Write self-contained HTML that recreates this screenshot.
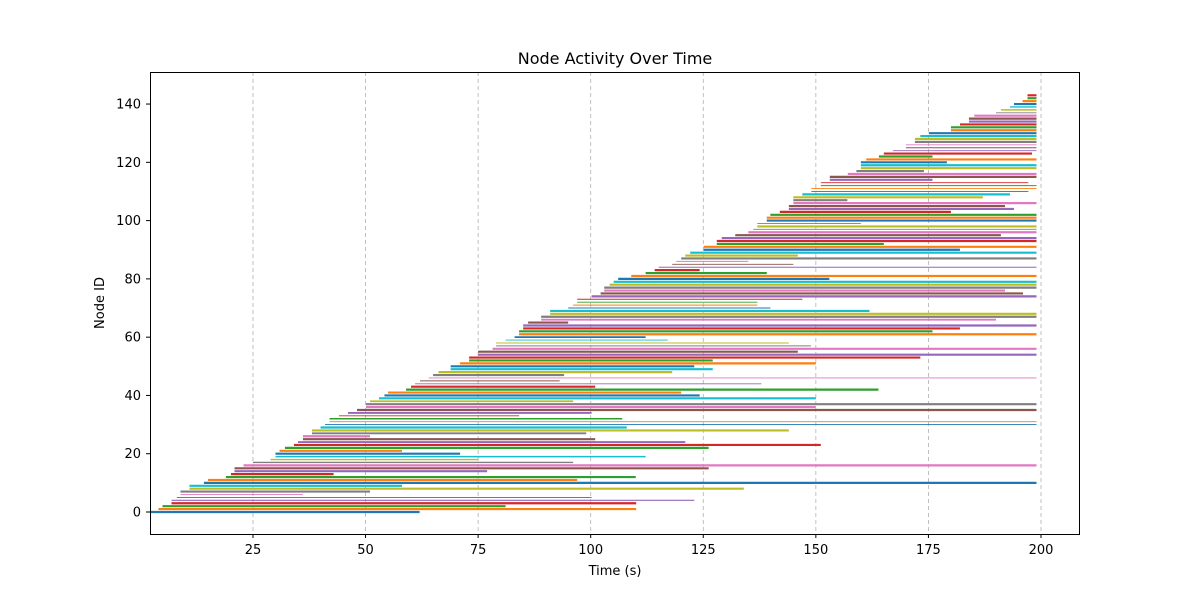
<!DOCTYPE html>
<html><head><meta charset="utf-8"><style>
body{margin:0;background:#fff;font-family:"Liberation Sans","DejaVu Sans",sans-serif}
svg text{font-family:"DejaVu Sans","Liberation Sans",sans-serif}
</style></head><body>
<svg id="chart" width="1200" height="600" xmlns="http://www.w3.org/2000/svg">
<rect width="1200" height="600" fill="#fff"/>
<text x="615" y="64" text-anchor="middle" font-size="16">Node Activity Over Time</text>
<text x="615" y="575" text-anchor="middle" font-size="13">Time (s)</text>
<text x="104" y="303" text-anchor="middle" font-size="13" transform="rotate(-90 104 303)">Node ID</text>
<g id="grid"></g><g id="bars"></g><g id="axes"></g>
<rect x="150.5" y="72.5" width="929" height="462" fill="none" stroke="#000" stroke-width="1"/>
</svg>
<script>
const starts=[2.1,4,4.9,6.9,6.9,8.1,8.9,8.9,10.9,10.9,14.1,15,19,20.1,20.9,20.9,22.9,25,28.9,30,
30,30.9,32.1,34.1,35,36.1,36.1,38.1,38.1,40,41,42,42,44.1,46.1,48.1,50.1,50.1,51,53,
54.2,55,59,60.1,61,62.1,64,65,66.2,68.9,68.9,71,73,73,75,75,78.2,79,79,81.1,83.1,
84.1,84.1,85,85,86.1,89,89,91,91,95,96.1,97,97,100.2,102.2,103,103,104.2,105.1,106.1,
109,112.2,114.2,115.1,118.1,119,120.1,121,122.1,125.1,125.1,128,128,129.1,132.1,135,136.1,137,137,139.1,
139.1,139.9,142,144,144,145,145,145,147,149,149,151.1,151.1,153.1,153.1,157.1,159,160,160,160,
161.2,164,165.1,167.1,170,170,172,172,173.2,175.1,180,180,182,184,184,185.2,190,191.1,193.1,194,195.9,197,197];
const ends=[62,110.1,81.1,110.1,123,100.2,36.1,51,134,58.1,199,97,110,42.9,77,126.2,199,96.1,75,112.2,
71,58.1,126.2,151.1,121,101,51,99,144,108,199,199,107,84.1,100.2,199,150,199,96.1,150,
124.2,120.1,163.9,101,137.9,93.1,199,94.1,118.1,127.1,123,150,127.1,173.2,199,146,199,148.9,144,117.1,112.2,
199,175.9,182,199,95,190,199,199,161.9,139.9,137,137,147,199,196,192,199,199,199,153,
199,139.1,124.2,199,145,135,199,146,199,182,199,165.1,199,199,191.1,199,199,199,160,199,
199,199,180,194,192,199,157,187.1,193.1,197.2,199,199,197.2,175.9,199,199,174,199,199,179.1,
199,175.9,198,199,199,199,199,199,199,199,199,199,199,199,199,199,199,199,199,199,199,199,199];
const widths=[3,3,3,3,1.5,1.2,1.2,3,3,3,3,3,3,3,3,3,3,2,2,2,
3,3,3,3,2.5,3,3,2.5,3,3,1.3,1.3,2,1.3,2.5,3,3,3,2.5,3,
3,3,3,3,1.3,1.3,1.3,3,3,3,3,3,3,3,3,3,3,1.3,1.3,1.3,2.5,
3,3,3,3,3,2.5,3,3,3,1.3,1.3,1.3,1.3,3,3,3,3,3,3,3,
3,3,3,1.3,1.3,1.3,3,3,3,3,3,3,3,3,3,3,1.3,3,1.3,3,
3,3,3,3,3,3,3,3,3,1.3,1.3,1.3,1.3,3,3,3,3,3,3,3,
3,3,3,1.3,1.3,1.3,3,3,3,3,3,3,3,3,3,3,1.3,2,2,3,3,3,3];
const xTicks=[25,50,75,100,125,150,175,200];
const yTicks=[0,20,40,60,80,100,120,140];
const colors=["#1f77b4","#ff7f0e","#2ca02c","#d62728","#9467bd","#8c564b","#e377c2","#7f7f7f","#bcbd22","#17becf"];
const NS="http://www.w3.org/2000/svg";
function xs(t){return 140.4+4.503*t;}
function ys(k){return 512-2.914*k;}
const grid=document.getElementById('grid'),bars=document.getElementById('bars'),axes=document.getElementById('axes');
function mk(tag,attrs,parent){const e=document.createElementNS(NS,tag);for(const k in attrs)e.setAttribute(k,attrs[k]);parent.appendChild(e);return e;}
xTicks.forEach(t=>{
  const x=xs(t);
  const g=mk('line',{x1:x,x2:x,y1:72,y2:534,stroke:'#b0b0b0','stroke-width':0.8,'stroke-dasharray':'4,3'},grid);
  
  
  const tk=mk('line',{x1:x,x2:x,y1:534,y2:538,stroke:'#000'},axes);
  
  
  const tx=mk('text',{x:x,y:554,'text-anchor':'middle','font-size':13},axes);
  tx.textContent=t;
  
  
});
yTicks.forEach(v=>{
  const y=ys(v);
  const tk=mk('line',{x1:146,x2:150,y1:y,y2:y,stroke:'#000'},axes);
  
  
  const tx=mk('text',{x:141,y:y+4.5,'text-anchor':'end','font-size':13},axes);
  tx.textContent=v;
  
  
});
starts.forEach((s,i)=>{
  const y=ys(i);
  const l=mk('line',{x1:xs(s),x2:xs(ends[i]),y1:y,y2:y,stroke:colors[i%10],'stroke-width':widths[i]*0.72},bars);
  
  
});
</script>
</body></html>
